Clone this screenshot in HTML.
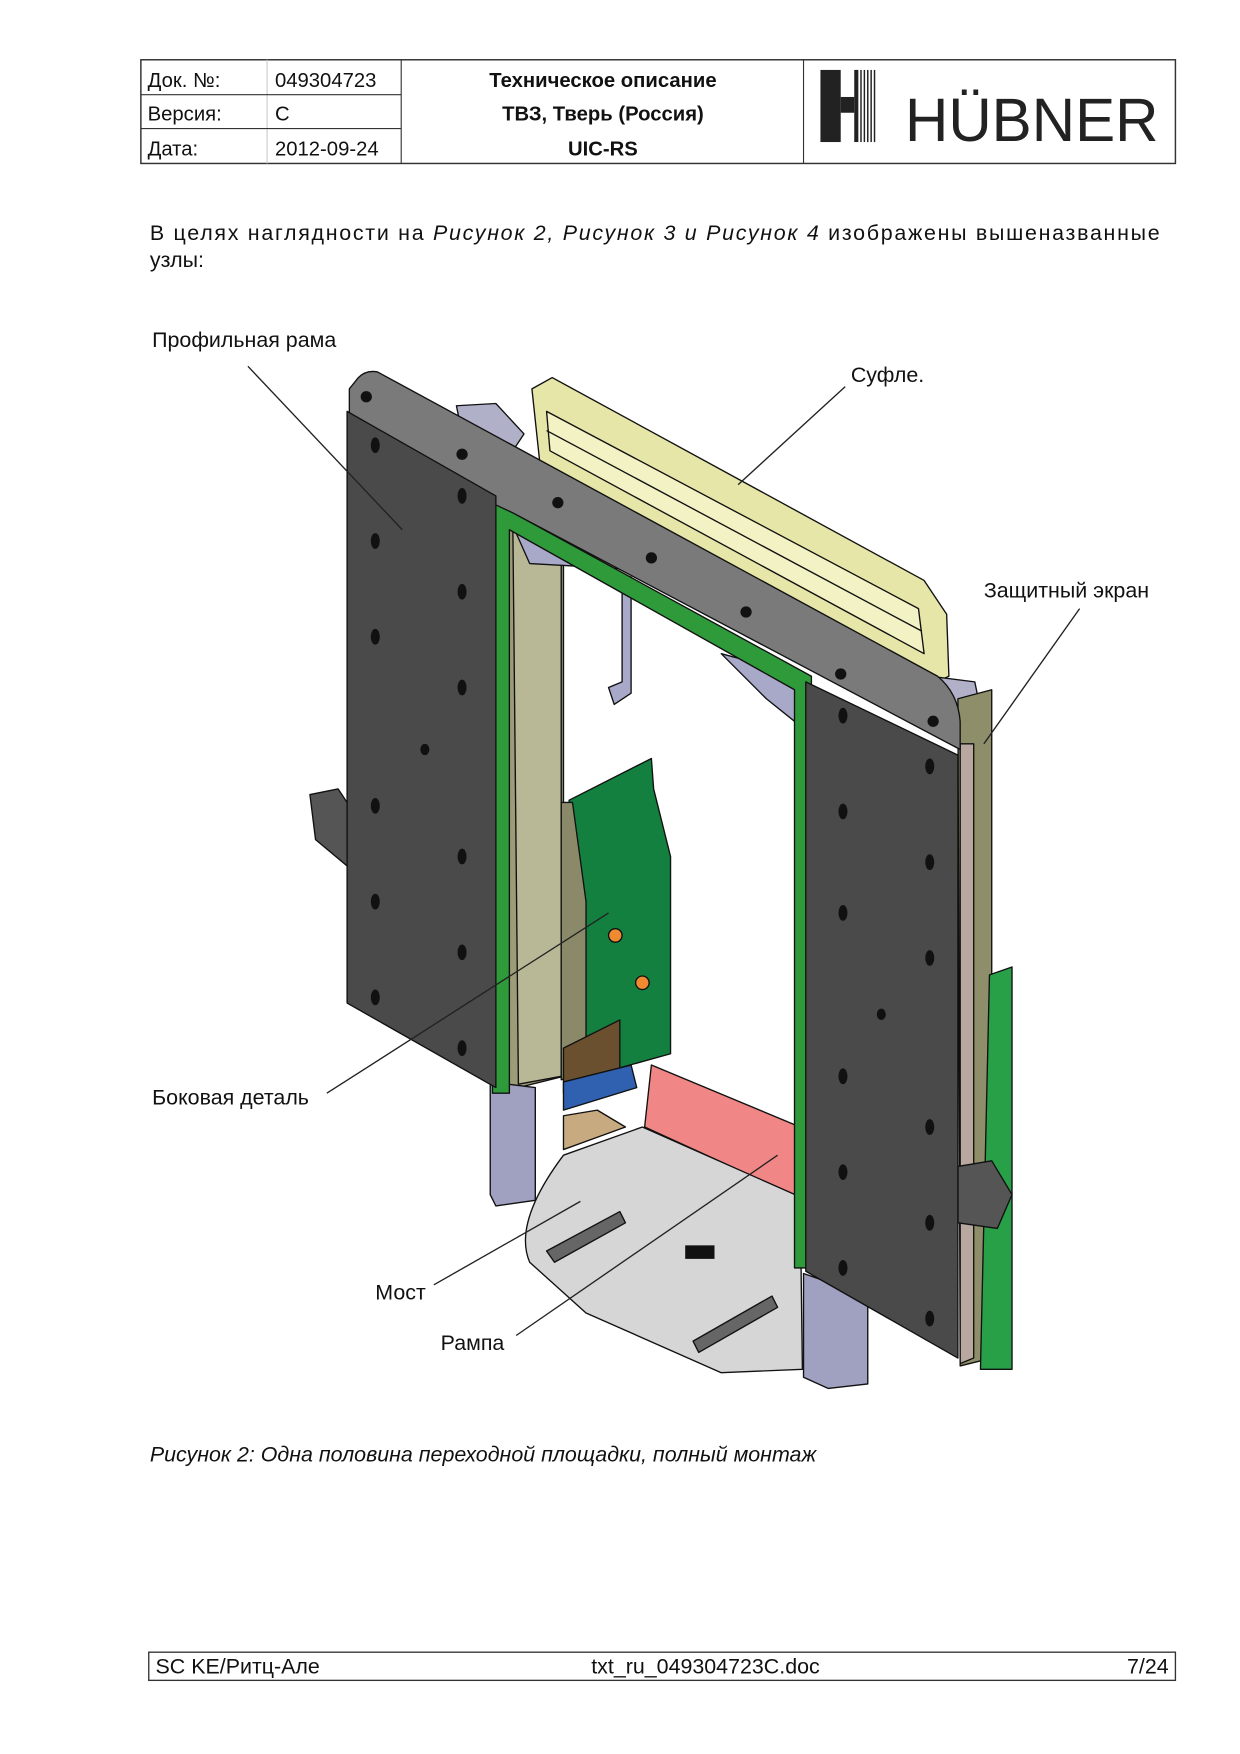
<!DOCTYPE html>
<html><head><meta charset="utf-8"><style>html,body{margin:0;padding:0;background:#fff}svg{display:block}</style></head>
<body>
<svg width="1240" height="1754" viewBox="0 0 1100.3 1556.3" xmlns="http://www.w3.org/2000/svg" font-family="Liberation Sans, sans-serif">
<!-- header -->
<g stroke="#333" fill="none">
<rect x="125" y="53" width="918" height="92" stroke-width="1.3"/>
<line x1="237" y1="53" x2="237" y2="145" stroke="#ccc"/>
<line x1="356" y1="53" x2="356" y2="145"/>
<line x1="713" y1="53" x2="713" y2="145"/>
<line x1="125" y1="84" x2="356" y2="84"/>
<line x1="125" y1="114" x2="356" y2="114"/>
</g>
<g font-size="18" fill="#111">
<text x="131" y="77">Док. №:</text><text x="244" y="77">049304723</text>
<text x="131" y="107">Версия:</text><text x="244" y="107">C</text>
<text x="131" y="138">Дата:</text><text x="244" y="138">2012-09-24</text>
<g font-weight="bold" text-anchor="middle"><text x="535" y="77">Техническое описание</text><text x="535" y="107">ТВЗ, Тверь (Россия)</text><text x="535" y="138">UIC-RS</text></g>
</g>
<!-- logo -->
<rect x="728" y="62" width="18" height="64" fill="#222"/>
<rect x="746" y="86" width="12" height="14" fill="#222"/>
<g stroke="#222" stroke-width="1.3"><line x1="761" y1="62" x2="761" y2="126"/><line x1="764" y1="62" x2="764" y2="126"/><line x1="767" y1="62" x2="767" y2="126"/><line x1="770" y1="62" x2="770" y2="126"/><line x1="773" y1="62" x2="773" y2="126"/><line x1="776" y1="62" x2="776" y2="126"/></g>
<rect x="758" y="62" width="3" height="64" fill="#222"/>
<text x="803" y="125" font-size="54" fill="#222" textLength="225" lengthAdjust="spacingAndGlyphs">HÜBNER</text>
<!-- body -->
<text x="133" y="213" font-size="19" fill="#111" textLength="896" lengthAdjust="spacing">В целях наглядности на <tspan font-style="italic">Рисунок 2, Рисунок 3 и Рисунок 4</tspan> изображены вышеназванные</text>
<text x="133" y="237" font-size="19" fill="#111">узлы:</text>
<!-- drawing -->
<g stroke="#111" stroke-width="1.2" stroke-linejoin="round">
<!-- souffle -->
<polygon points="472,345 490,335 820,515 840,545 842,600 820,610 480,420" fill="#e6e6a8"/>
<polygon points="485,365 815,540 820,580 488,400" fill="#f2f2c4"/>
<line x1="485" y1="382" x2="818" y2="560"/>
<!-- back brackets -->
<polygon points="405,360 440,358 465,385 455,400 410,385" fill="#b0b0c8"/>
<polygon points="825,600 865,605 870,630 830,625" fill="#b0b0c8"/>
<!-- inner left column -->
<polygon points="440,450 500,478 500,955 440,970" fill="#9c9c78"/>
<polygon points="455,460 498,480 498,955 460,962" fill="#b8b896"/>
<polygon points="450,455 500,480 560,505 470,500" fill="#a8a8c8"/>
<polygon points="640,580 715,600 705,640 680,620" fill="#a8a8c8"/>
<!-- hanging pipe -->
<polygon points="552,510 560,512 560,615 545,625 540,610 552,605" fill="#a8a8c8"/>
<!-- green side -->
<polygon points="505,710 578,673 580,700 595,760 595,935 505,960" fill="#13803f"/>
<polygon points="498,712 508,712 520,800 520,955 498,958" fill="#8a8a6a"/>
<circle cx="546" cy="830" r="6" fill="#f08a30"/><circle cx="570" cy="872" r="6" fill="#f08a30"/>
<polygon points="500,930 550,905 550,950 500,970" fill="#6b5030"/>
<polygon points="500,960 560,945 565,965 500,985" fill="#3060b0"/>
<polygon points="500,990 530,985 555,1000 500,1020" fill="#c8aa80"/>
<!-- legs -->
<polygon points="435,960 475,965 475,1065 440,1070 435,1060" fill="#a0a0c0"/>
<polygon points="713,1130 770,1150 770,1228 735,1232 713,1222" fill="#a0a0c0"/>
<!-- ramp -->
<polygon points="578,945 710,1000 708,1062 572,1000" fill="#f08686"/>
<!-- bridge -->
<path d="M500,1025 L570,1000 L710,1062 L712,1215 L640,1218 L520,1165 L470,1120 Q455,1085 500,1025 Z" fill="#d6d6d6"/>
<polygon points="485,1110 550,1075 555,1085 492,1120" fill="#666"/>
<polygon points="615,1190 685,1150 690,1160 620,1200" fill="#666"/>
<!-- right screen -->
<polygon points="850,620 880,612 880,1205 852,1212" fill="#8e8e6a"/>
<polygon points="852,660 864,660 864,1205 852,1210" fill="#b8a8a0"/>
<polygon points="878,865 898,858 898,1215 870,1215" fill="#28a048"/>
<polygon points="850,1035 880,1030 898,1060 885,1090 850,1085" fill="#555"/>
<!-- left bracket -->
<polygon points="275,705 300,700 310,715 310,770 280,745" fill="#555"/>
<!-- green frame -->
<polygon points="437,445 720,600 720,1125 705,1125 705,612 452,470 452,970 437,970" fill="#2e9a3a"/>
<!-- top beam -->
<path d="M318,335 Q325,328 335,330 L832,600 Q850,615 852,640 L852,665 L455,455 L440,448 L310,378 L310,345 Z" fill="#7a7a7a"/>
<!-- left panel -->
<polygon points="308,365 440,440 440,965 308,890" fill="#4a4a4a"/>
<!-- right panel -->
<polygon points="715,605 850,670 850,1205 715,1128" fill="#4a4a4a"/>
</g>
<!-- bolts -->
<g fill="#111">
<circle cx="325" cy="352" r="5"/><circle cx="410" cy="403" r="5"/><circle cx="495" cy="446" r="5"/><circle cx="578" cy="495" r="5"/><circle cx="662" cy="543" r="5"/><circle cx="746" cy="598" r="5"/><circle cx="828" cy="640" r="5"/>
<ellipse cx="333" cy="395" rx="4" ry="7"/><ellipse cx="410" cy="440" rx="4" ry="7"/><ellipse cx="333" cy="480" rx="4" ry="7"/><ellipse cx="410" cy="525" rx="4" ry="7"/><ellipse cx="333" cy="565" rx="4" ry="7"/><ellipse cx="410" cy="610" rx="4" ry="7"/><ellipse cx="377" cy="665" rx="4" ry="5"/><ellipse cx="333" cy="715" rx="4" ry="7"/><ellipse cx="410" cy="760" rx="4" ry="7"/><ellipse cx="333" cy="800" rx="4" ry="7"/><ellipse cx="410" cy="845" rx="4" ry="7"/><ellipse cx="333" cy="885" rx="4" ry="7"/><ellipse cx="410" cy="930" rx="4" ry="7"/>
<ellipse cx="748" cy="635" rx="4" ry="7"/><ellipse cx="825" cy="680" rx="4" ry="7"/><ellipse cx="748" cy="720" rx="4" ry="7"/><ellipse cx="825" cy="765" rx="4" ry="7"/><ellipse cx="748" cy="810" rx="4" ry="7"/><ellipse cx="825" cy="850" rx="4" ry="7"/><ellipse cx="782" cy="900" rx="4" ry="5"/><ellipse cx="748" cy="955" rx="4" ry="7"/><ellipse cx="825" cy="1000" rx="4" ry="7"/><ellipse cx="748" cy="1040" rx="4" ry="7"/><ellipse cx="825" cy="1085" rx="4" ry="7"/><ellipse cx="748" cy="1125" rx="4" ry="7"/><ellipse cx="825" cy="1170" rx="4" ry="7"/>
<rect x="608" y="1105" width="26" height="12"/>
</g>
<!-- leaders -->
<g stroke="#222" stroke-width="1.2">
<line x1="220" y1="325" x2="357" y2="470"/>
<line x1="750" y1="343" x2="655" y2="430"/>
<line x1="958" y1="540" x2="873" y2="660"/>
<line x1="290" y1="970" x2="540" y2="810"/>
<line x1="385" y1="1140" x2="515" y2="1066"/>
<line x1="458" y1="1185" x2="690" y2="1025"/>
</g>
<g font-size="19" fill="#111">
<text x="135" y="308">Профильная рама</text>
<text x="755" y="339">Суфле.</text>
<text x="873" y="530">Защитный экран</text>
<text x="135" y="980">Боковая деталь</text>
<text x="333" y="1153">Мост</text>
<text x="391" y="1198">Рампа</text>
<text x="133" y="1297" font-style="italic">Рисунок 2: Одна половина переходной площадки, полный монтаж</text>
</g>
<!-- footer -->
<rect x="132" y="1466" width="911" height="25" fill="none" stroke="#333" stroke-width="1.2"/>
<g font-size="19" fill="#111"><text x="138" y="1485">SC KE/Ритц-Але</text><text x="626" y="1485" text-anchor="middle">txt_ru_049304723C.doc</text><text x="1037" y="1485" text-anchor="end">7/24</text></g>
</svg>
</body></html>
